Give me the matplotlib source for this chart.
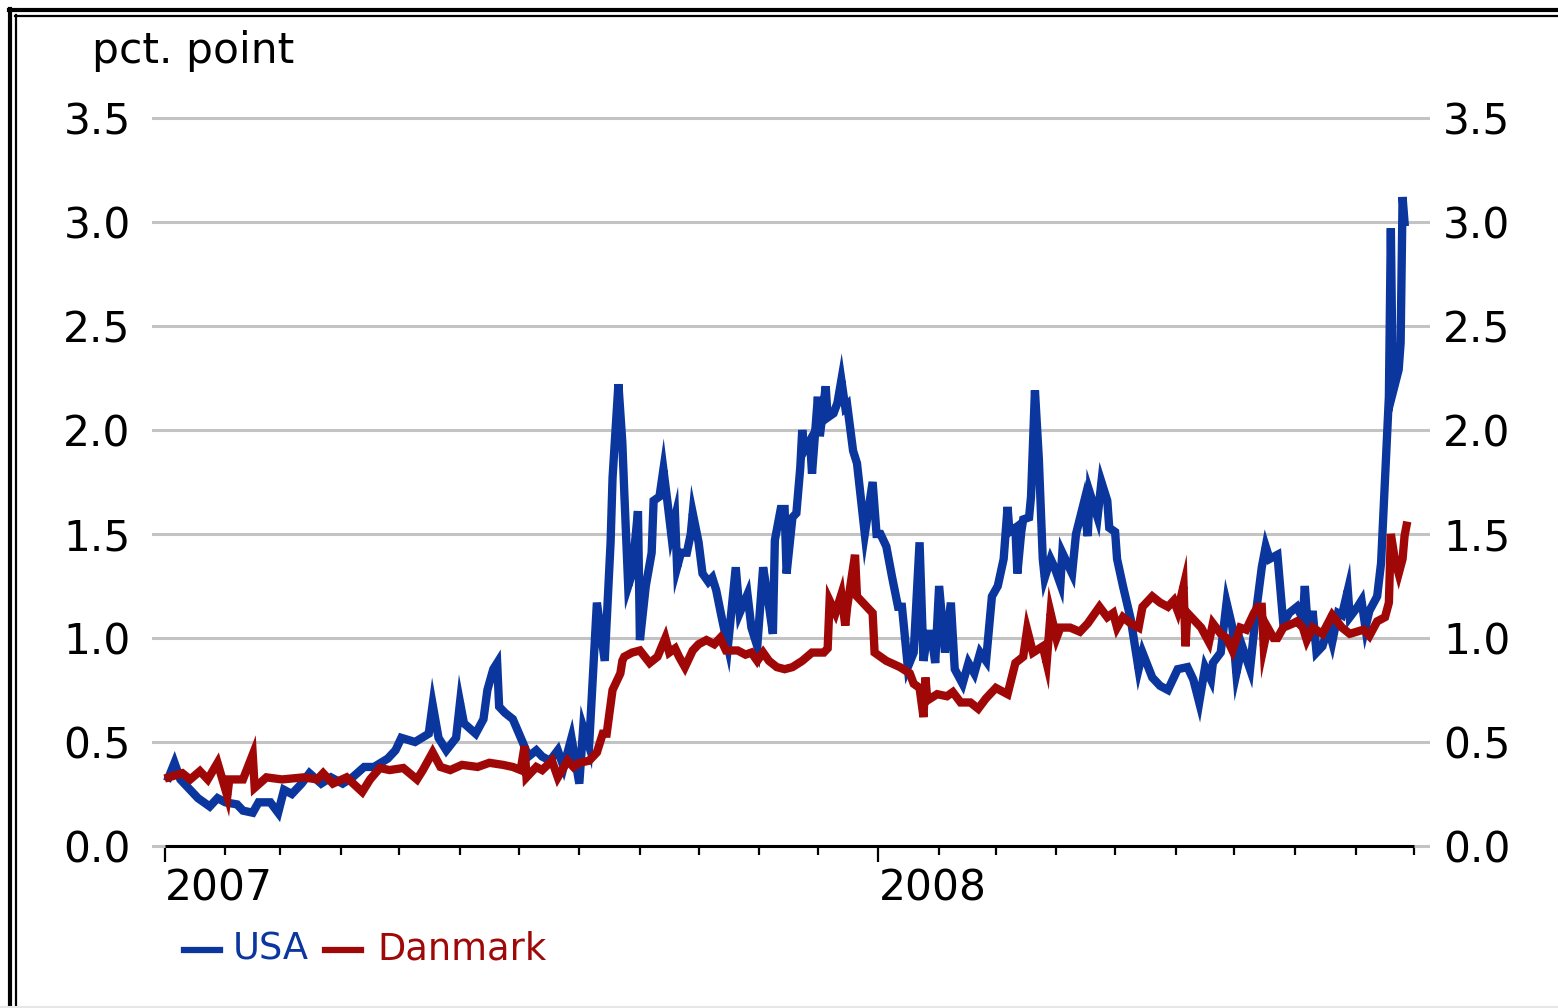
import matplotlib

matplotlib.use("Agg")
import matplotlib.dates as mdates
import matplotlib.pyplot as plt
import numpy as np
from matplotlib.lines import Line2D

# days since 2007-01-01, values in pct. point
usa_day = [
    2, 5, 8, 12, 17, 23, 27, 31, 37, 40,
    45, 48, 54, 58, 61, 65, 70, 74, 80, 85,
    91, 96, 102, 107, 114, 118, 121, 128, 135, 137,
    140, 144, 149, 151, 153, 159, 163, 165, 168, 170,
    171, 174, 178, 183, 186, 190, 193, 197, 201, 204,
    208, 212, 214, 217, 221, 225, 228, 229, 232, 234,
    235, 237, 239, 242, 243, 246, 249, 250, 253, 255,
    257, 259, 261, 262, 264, 267, 269, 270, 273, 275,
    278, 280, 282, 285, 288, 292, 294, 298, 300, 303,
    306, 308, 311, 312, 315, 317, 318, 321, 323, 325,
    326, 327, 330, 331, 334, 335, 338, 339, 342, 344,
    346, 348, 349, 352, 354, 358, 362, 364, 366, 369,
    372, 375, 377, 380, 383, 386, 388, 390, 392, 394,
    396, 399, 402, 404, 408, 411, 414, 417, 420, 423,
    426, 429, 431, 432, 435, 436, 438, 439, 442, 443,
    445, 447, 449, 450, 453, 455, 458, 459, 464, 466,
    470, 472, 473, 477, 479, 482, 483, 486, 487, 490,
    494, 498, 500, 505, 509, 513, 518, 523, 526, 529,
    532, 535, 536, 540, 543, 546, 548, 551, 555, 558,
    561, 563, 565, 569, 572, 575, 579, 582, 583, 585,
    587, 589, 592, 595, 597, 600, 602, 605, 606, 610,
    612, 614, 616, 620, 622, 624, 626, 627, 628, 631,
    632, 633, 634,
]
usa_val = [
    .33, .40, .32, .28, .23, .19, .23, .21, .20, .17,
    .16, .21, .21, .16, .27, .25, .30, .35, .30, .33,
    .30, .33, .38, .38, .42, .46, .52, .50, .54, .68,
    .52, .46, .52, .69, .59, .54, .61, .75, .85, .88,
    .67, .64, .61, .50, .43, .46, .43, .41, .46, .38,
    .52, .30, .57, .48, 1.17, .89, 1.46, 1.77, 2.22, 1.94,
    1.70, 1.25, 1.31, 1.61, .99, 1.25, 1.41, 1.66, 1.68, 1.81,
    1.66, 1.50, 1.58, 1.34, 1.41, 1.41, 1.50, 1.60, 1.46, 1.31,
    1.27, 1.29, 1.23, 1.09, .96, 1.34, 1.12, 1.21, 1.05, .96,
    1.34, 1.22, 1.02, 1.47, 1.62, 1.62, 1.31, 1.58, 1.60, 1.82,
    2.00, 1.90, 1.95, 1.79, 2.16, 1.97, 2.21, 2.06, 2.08, 2.13,
    2.24, 2.11, 2.12, 1.90, 1.84, 1.50, 1.75, 1.50, 1.50, 1.44,
    1.29, 1.15, 1.15, .86, .93, 1.46, .89, 1.02, 1.02, .88,
    1.25, .93, 1.17, .85, .78, .88, .83, .93, .89, 1.20,
    1.25, 1.38, 1.63, 1.51, 1.53, 1.31, 1.51, 1.57, 1.58, 1.68,
    2.19, 1.86, 1.38, 1.29, 1.38, 1.34, 1.26, 1.41, 1.31, 1.50,
    1.65, 1.49, 1.70, 1.58, 1.75, 1.66, 1.53, 1.51, 1.38, 1.25,
    1.09, .85, .93, .81, .77, .75, .85, .86, .80, .69,
    .86, .80, .88, .93, 1.17, 1.05, .83, .96, .85, 1.12,
    1.34, 1.44, 1.38, 1.40, 1.07, 1.12, 1.15, 1.09, 1.25, .99,
    1.13, .93, .96, 1.05, .98, 1.12, 1.11, 1.23, 1.10, 1.15,
    1.18, 1.05, 1.13, 1.20, 1.36, 1.76, 2.16, 2.97, 2.18, 2.29,
    2.42, 3.12, 3.00,
]

dk_day = [
    2, 9, 13, 18, 22, 27, 32, 33, 40, 45,
    46, 52, 60, 71, 78, 81, 86, 93, 101, 105,
    110, 115, 122, 129, 132, 137, 141, 146, 152, 160,
    166, 173, 178, 182, 184, 185, 190, 193, 198, 201,
    206, 209, 212, 217, 221, 224, 226, 229, 233, 234,
    235, 239, 243, 248, 252, 256, 258, 261, 263, 266,
    270, 273, 277, 281, 284, 287, 293, 297, 300, 303,
    306, 309, 313, 317, 321, 326, 331, 337, 339, 340,
    343, 346, 348, 349, 353, 354, 362, 363, 369, 376,
    381, 383, 386, 388, 389, 390, 395, 400, 403, 407,
    412, 416, 420, 425, 431, 435, 439, 441, 444, 449,
    451, 453, 456, 458, 463, 468, 472, 478, 482, 485,
    487, 490, 494, 498, 500, 505, 509, 513, 516, 518,
    521, 522, 523, 526, 530, 534, 536, 540, 543, 546,
    550, 553, 557, 559, 561, 562, 564, 567, 569, 572,
    577, 579, 582, 584, 587, 592, 597, 602, 606, 613,
    616, 620, 624, 626, 627, 629, 631, 633, 634, 635,
]
dk_val = [
    .33, .35, .32, .36, .32, .40, .24, .32, .32, .44,
    .28, .33, .32, .33, .32, .35, .30, .33, .26, .32,
    .375, .365, .375, .32, .365, .45, .38, .365, .39, .38,
    .40, .39, .38, .365, .48, .33, .38, .365, .41, .33,
    .41, .38, .40, .41, .45, .54, .54, .75, .83, .89,
    .91, .93, .94, .88, .91, 1.00, .93, .95, .91, .86,
    .94, .97, .99, .97, 1.00, .94, .94, .92, .93, .89,
    .93, .89, .86, .85, .86, .89, .93, .93, .95, 1.18,
    1.12, 1.21, 1.06, 1.15, 1.40, 1.20, 1.12, .93, .89, .86,
    .83, .78, .76, .62, .81, .70, .73, .72, .74, .69,
    .69, .66, .71, .76, .73, .88, .91, 1.04, .93, .96,
    .88, 1.12, 1.00, 1.05, 1.05, 1.03, 1.07, 1.15, 1.10, 1.12,
    1.05, 1.10, 1.07, 1.05, 1.15, 1.20, 1.17, 1.15, 1.18, 1.13,
    1.25, .96, 1.12, 1.09, 1.05, .98, 1.07, 1.02, 1.00, .94,
    1.05, 1.04, 1.12, 1.15, 1.15, .96, 1.05, 1.00, 1.00, 1.05,
    1.07, 1.08, 1.05, .99, 1.05, 1.02, 1.11, 1.05, 1.02, 1.04,
    1.01, 1.08, 1.10, 1.17, 1.50, 1.38, 1.31, 1.38, 1.49, 1.54,
]

series_names = ["USA", "Danmark"]
series_colors = ["#0a369d", "#a00808"]
y_ticks = [0.0, 0.5, 1.0, 1.5, 2.0, 2.5, 3.0, 3.5]

assert len(usa_day) == len(usa_val) and len(dk_day) == len(dk_val)

t0 = np.datetime64("2007-01-01")
usa_dates = t0 + np.array(usa_day).astype("timedelta64[D]")
dk_dates = t0 + np.array(dk_day).astype("timedelta64[D]")

W, H = 1558, 1008
fig = plt.figure(figsize=(W / 100, H / 100), dpi=100)
ax = fig.add_axes([153 / W, 1 - 846 / H, (1428 - 153) / W, (846 - 118) / H])

FS = 30.5
ax.set_ylim(0, 3.5)
ax.set_xlim(t0 - np.timedelta64(6, "D"), t0 + np.timedelta64(646, "D"))
ax.set_yticks(y_ticks)
ax.set_yticklabels([f"{v:.1f}" for v in y_ticks])
ax.grid(axis="y", color="#c3c3c3", lw=2.2)
for gl in ax.get_ygridlines():
    gl.set_clip_on(False)
ax.set_axisbelow(True)
for s in ax.spines.values():
    s.set_visible(False)
ax.tick_params(axis="y", length=0, labelsize=FS, pad=16)

# right-hand copy of the y scale
ax2 = ax.twinx()
ax2.set_ylim(0, 3.5)
ax2.set_yticks(y_ticks)
ax2.set_yticklabels([f"{v:.1f}" for v in y_ticks])
ax2.tick_params(axis="y", length=0, labelsize=FS, pad=11)
for s in ax2.spines.values():
    s.set_visible(False)

ax.xaxis.set_major_locator(mdates.YearLocator())
ax.xaxis.set_major_formatter(mdates.DateFormatter("%Y"))
ax.xaxis.set_minor_locator(mdates.MonthLocator())
ax.tick_params(axis="x", which="major", length=11.5, width=1.6, labelsize=FS, pad=4)
ax.tick_params(axis="x", which="minor", length=6.5, width=1.6)
for lab in ax.get_xticklabels():
    lab.set_ha("left")

# x axis line only over the data period
ax.plot(
    [t0, np.datetime64("2008-10-01")], [0, 0], color="black", lw=2.2,
    clip_on=False, zorder=5, solid_capstyle="butt",
)

ax.plot(usa_dates, usa_val, color=series_colors[0], lw=6.0,
        solid_joinstyle="miter", zorder=3)
ax.plot(dk_dates, dk_val, color=series_colors[1], lw=6.0,
        solid_joinstyle="miter", zorder=4)

fig.text(92 / W, 1 - 63 / H, "pct. point", fontsize=FS, va="baseline")

# legend, drawn by hand
leg_y = 1 - 950 / H
for (x0, x1, tx), name, col in zip(
    [(184, 220, 233), (325, 361, 377)], series_names, series_colors
):
    fig.add_artist(Line2D([x0 / W, x1 / W], [leg_y, leg_y], color=col, lw=4.5,
                          transform=fig.transFigure))
    fig.text(tx / W, 1 - 960 / H, name, fontsize=26.5, color=col, va="baseline")

# double frame (top and left)
for yy, lw in [(10, 3.0), (15.5, 1.6)]:
    fig.add_artist(Line2D([(yy - 1) / W, 1], [1 - yy / H, 1 - yy / H],
                          color="black", lw=lw, transform=fig.transFigure))
    fig.add_artist(Line2D([yy / W, yy / W], [0, 1 - (yy - 1) / H],
                          color="black", lw=lw, transform=fig.transFigure))
fig.add_artist(Line2D([0, 1], [1.5 / H, 1.5 / H], color="#e6e6e6", lw=1.5,
                      transform=fig.transFigure))

fig.savefig("out.png", dpi=100)
